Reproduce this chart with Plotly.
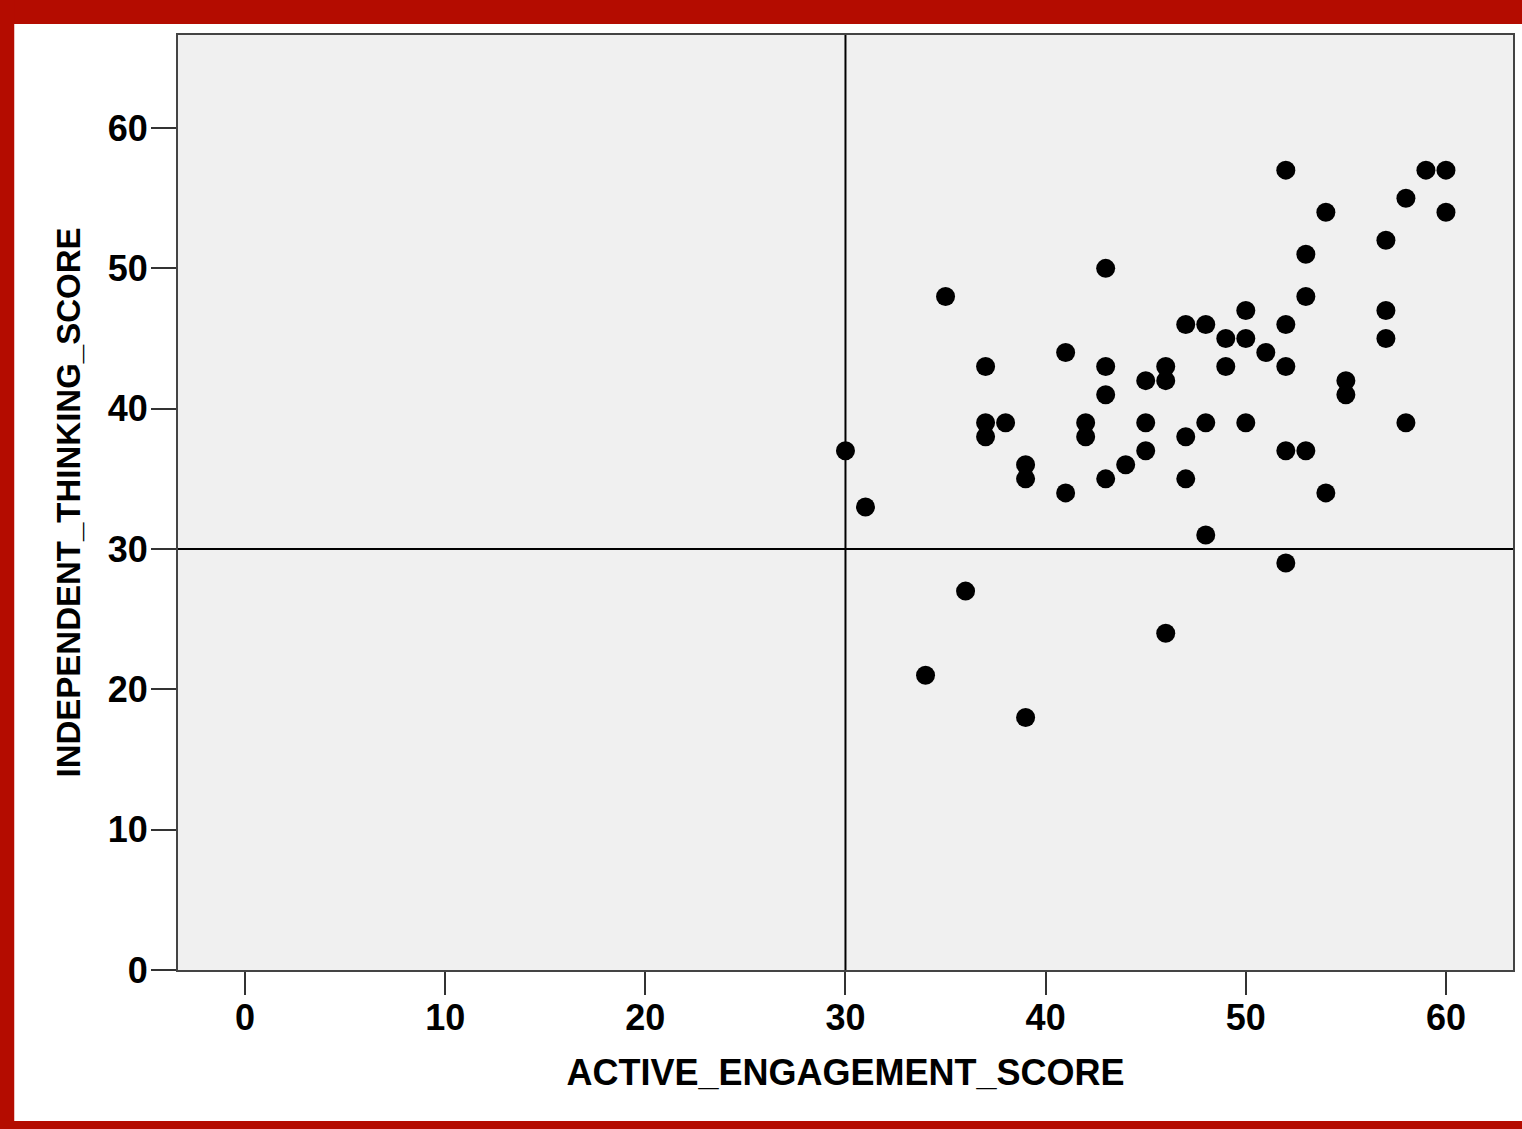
import plotly.graph_objects as go

# Data
active_engagement = [30, 31, 35, 36, 34, 37, 37, 37, 38, 39, 39, 39, 41, 41, 42, 42,
                     43, 43, 43, 43, 44, 45, 45, 45, 46, 46, 46, 47, 47, 47, 48, 48,
                     48, 49, 49, 50, 50, 50, 51, 52, 52, 52, 52, 52, 53, 53, 53, 54,
                     54, 55, 55, 57, 57, 57, 58, 58, 59, 60, 60]
independent_thinking = [37, 33, 48, 27, 21, 43, 39, 38, 39, 36, 35, 18, 44, 34, 39, 38,
                        50, 43, 41, 35, 36, 42, 39, 37, 43, 42, 24, 46, 38, 35, 46, 39,
                        31, 45, 43, 47, 45, 39, 44, 57, 46, 43, 37, 29, 51, 48, 37, 54,
                        34, 42, 41, 52, 47, 45, 55, 39, 57, 57, 54]
x_ticks = [0, 10, 20, 30, 40, 50, 60]
y_ticks = [0, 10, 20, 30, 40, 50, 60]
ref_x = 30
ref_y = 30
x_title = "ACTIVE_ENGAGEMENT_SCORE"
y_title = "INDEPENDENT_THINKING_SCORE"

W, H = 1522, 1129
L, R, T, B = 178, 7, 35, 159
PW, PH = W - L - R, H - T - B

def fx(px):
    return (px - L) / PW

def fy(py):
    return 1 - (py - T) / PH

RED = "#B40C00"
FONT = "Liberation Sans, Arial, sans-serif"

fig = go.Figure()
fig.add_trace(go.Scatter(
    x=active_engagement, y=independent_thinking, mode="markers",
    marker=dict(color="black", size=19, line=dict(width=0)),
    showlegend=False, cliponaxis=False, hoverinfo="skip",
))

shapes = [
    # red frame bands
    dict(type="rect", xref="paper", yref="paper", x0=fx(-20), x1=fx(W + 20), y0=fy(24), y1=fy(-20),
         fillcolor=RED, line=dict(width=0), layer="above"),
    dict(type="rect", xref="paper", yref="paper", x0=fx(-20), x1=fx(14), y0=fy(H + 20), y1=fy(-20),
         fillcolor=RED, line=dict(width=0), layer="above"),
    dict(type="rect", xref="paper", yref="paper", x0=fx(-20), x1=fx(W + 20), y0=fy(H + 20), y1=fy(1121),
         fillcolor=RED, line=dict(width=0), layer="above"),
    # reference lines
    dict(type="line", xref="x", yref="paper", x0=ref_x, x1=ref_x, y0=0, y1=1,
         line=dict(color="black", width=2), layer="below"),
    dict(type="line", xref="paper", yref="y", x0=0, x1=1, y0=ref_y, y1=ref_y,
         line=dict(color="black", width=2), layer="below"),
]

axis_common = dict(
    showgrid=False, zeroline=False, showline=True, mirror=True,
    linecolor="#444444", linewidth=2,
    ticks="outside", tickcolor="#333333", tickwidth=2,
    tickfont=dict(family=FONT, size=36, color="black", weight="bold"),
)

fig.update_layout(
    width=W, height=H,
    margin=dict(l=L, r=R, t=T, b=B, pad=0),
    paper_bgcolor="white", plot_bgcolor="#F0F0F0",
    shapes=shapes,
    hovermode=False,
    xaxis=dict(range=[-3.347, 63.35], tickvals=x_ticks, ticklen=23, ticklabelstandoff=-8,
               title=dict(text=x_title, standoff=23,
                          font=dict(family=FONT, size=36, color="black", weight="bold")),
               **axis_common),
    yaxis=dict(range=[0, 66.63], tickvals=y_ticks, ticklen=25, ticklabelstandoff=-4,
               title=dict(text=y_title, standoff=17,
                          font=dict(family=FONT, size=33, color="black", weight="bold")),
               **axis_common),
)

fig.write_html("out.html", config={"displayModeBar": False},
               post_script="document.body.style.margin='0';")
